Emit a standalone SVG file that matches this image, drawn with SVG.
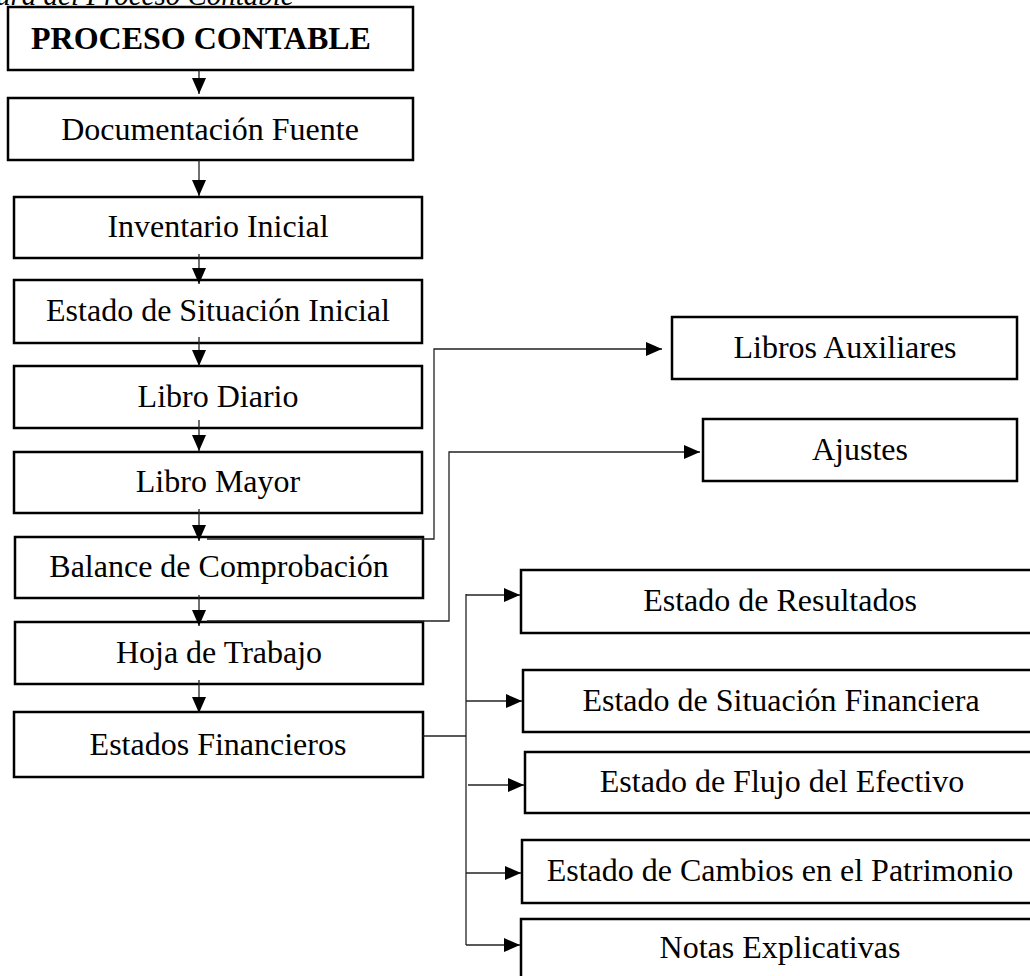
<svg xmlns="http://www.w3.org/2000/svg" width="1030" height="976" viewBox="0 0 1030 976">
<style>
.box{fill:#fff;stroke:#000;stroke-width:2.5}
.t{font-family:"Liberation Serif","Times New Roman",serif;font-size:32px;fill:#000;text-anchor:middle}
.b{font-weight:bold}
.c{fill:none;stroke:#222;stroke-width:1.3}
</style>
<defs>
<marker id="ah" markerUnits="userSpaceOnUse" markerWidth="16" markerHeight="14" refX="16" refY="7" orient="auto">
<path d="M0,0 L16,7 L0,14 z" fill="#000"/>
</marker>
</defs>
<rect width="1030" height="976" fill="#fff"/>
<text x="-4" y="5" style="font-family:'Liberation Serif','Times New Roman',serif;font-size:29px;font-style:italic;fill:#000">ura del Proceso Contable</text>

<g id="proceso"><rect class="box" x="8" y="7" width="405" height="63"/><text class="t b" x="201" y="49">PROCESO CONTABLE</text></g>
<g id="documentacion"><rect class="box" x="8" y="98" width="405" height="62"/><text class="t" x="210" y="140">Documentación Fuente</text></g>
<g id="inventario"><rect class="box" x="14" y="197" width="408" height="61"/><text class="t" x="218" y="237">Inventario Inicial</text></g>
<g id="situacion-inicial"><rect class="box" x="14" y="280" width="408" height="63"/><text class="t" x="218" y="321">Estado de Situación Inicial</text></g>
<g id="diario"><rect class="box" x="14" y="366" width="408" height="62"/><text class="t" x="218" y="407">Libro Diario</text></g>
<g id="mayor"><rect class="box" x="14" y="452" width="408" height="61"/><text class="t" x="218" y="492">Libro Mayor</text></g>
<g id="balance"><rect class="box" x="15" y="537" width="408" height="61"/><text class="t" x="219" y="577">Balance de Comprobación</text></g>
<g id="hoja"><rect class="box" x="15" y="622" width="408" height="62"/><text class="t" x="219" y="663">Hoja de Trabajo</text></g>
<g id="estados"><rect class="box" x="14" y="712" width="409" height="65"/><text class="t" x="218" y="755">Estados Financieros</text></g>

<g id="auxiliares"><rect class="box" x="672" y="317" width="345" height="62"/><text class="t" x="845" y="358">Libros Auxiliares</text></g>
<g id="ajustes"><rect class="box" x="703" y="419" width="314" height="62"/><text class="t" x="860" y="460">Ajustes</text></g>

<g id="resultados"><rect class="box" x="521" y="570" width="520" height="63"/><text class="t" x="780" y="611">Estado de Resultados</text></g>
<g id="situacion-financiera"><rect class="box" x="523" y="670" width="520" height="62"/><text class="t" x="781" y="711">Estado de Situación Financiera</text></g>
<g id="flujo"><rect class="box" x="525" y="752" width="520" height="61"/><text class="t" x="782" y="792">Estado de Flujo del Efectivo</text></g>
<g id="cambios"><rect class="box" x="522" y="840" width="520" height="63"/><text class="t" x="780" y="881">Estado de Cambios en el Patrimonio</text></g>
<g id="notas"><rect class="box" x="521" y="919" width="520" height="80"/><text class="t" x="780" y="958">Notas Explicativas</text></g>

<g id="connectors">
<line class="c" x1="199" y1="70" x2="199" y2="94" marker-end="url(#ah)"/>
<line class="c" x1="199" y1="160" x2="199" y2="196" marker-end="url(#ah)"/>
<line class="c" x1="199" y1="254" x2="199" y2="284" marker-end="url(#ah)"/>
<line class="c" x1="199" y1="337" x2="199" y2="366" marker-end="url(#ah)"/>
<line class="c" x1="199" y1="420" x2="199" y2="451" marker-end="url(#ah)"/>
<line class="c" x1="199" y1="509" x2="199" y2="541" marker-end="url(#ah)"/>
<line class="c" x1="199" y1="595" x2="199" y2="626" marker-end="url(#ah)"/>
<line class="c" x1="199" y1="680" x2="199" y2="713" marker-end="url(#ah)"/>
<path class="c" d="M207,539 H434 V349 H662" marker-end="url(#ah)"/>
<path class="c" d="M207,621 H449 V452 H700" marker-end="url(#ah)"/>
<path class="c" d="M423,736 H466"/>
<path class="c" d="M466,594 V945"/>
<path class="c" d="M466,595 H520" marker-end="url(#ah)"/>
<path class="c" d="M466,701 H522" marker-end="url(#ah)"/>
<path class="c" d="M468,785 H524" marker-end="url(#ah)"/>
<path class="c" d="M466,873 H521" marker-end="url(#ah)"/>
<path class="c" d="M466,945 H520" marker-end="url(#ah)"/>
</g>
</svg>
